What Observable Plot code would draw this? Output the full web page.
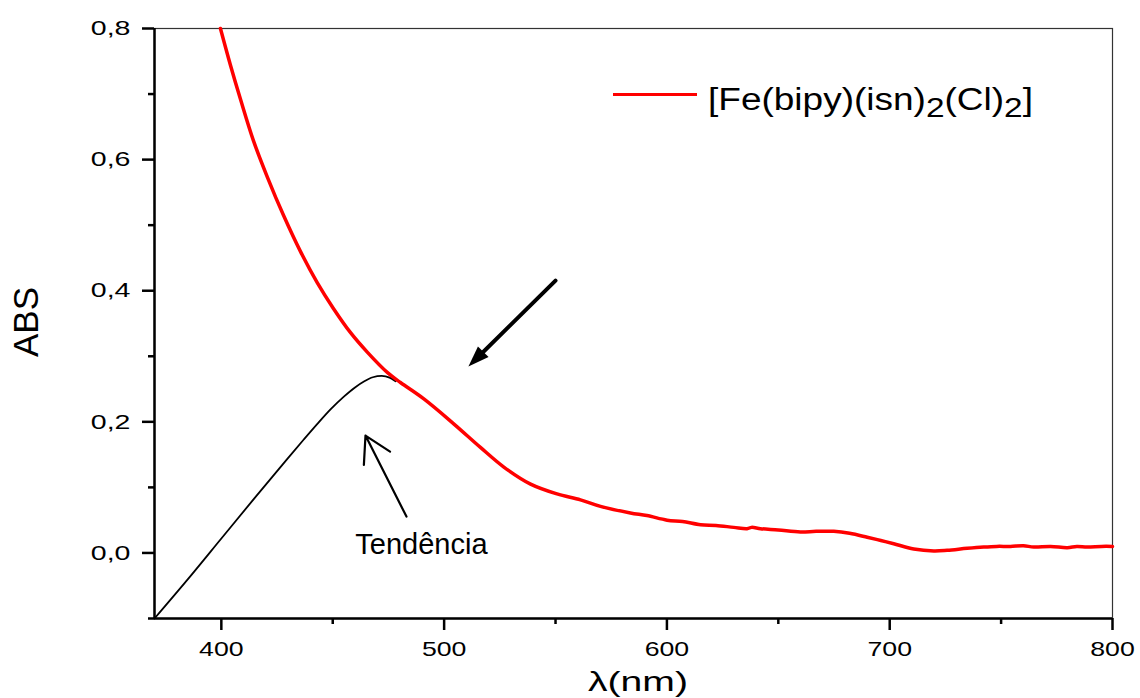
<!DOCTYPE html>
<html><head><meta charset="utf-8">
<script src="https://cdn.jsdelivr.net/npm/d3@7"></script>
<script src="https://cdn.jsdelivr.net/npm/@observablehq/plot@0.6"></script>
<style>body{margin:0;background:#fff;} #chart{width:1140px;height:698px;}</style>
</head><body><div id="chart"></div>
<script>
// ---- data ----
const wavelengthRed = [399.6,404.1,408.6,414.4,420.7,427.9,435.5,443.1,450.3,458.0,465.6,474.6,480.4,490.9,504.3,516.3,526.8,538.8,550.7,561.2,570.2,583.6,591,600.1,607,615.1,622,630.0,636,638,642.0,650,659.9,667,674.9,682,689.9,696,701.8,710.8,719.8,725.8,734.8,742.2,748,754.2,760,764.7,772.2,779.7,784,788.6,795,800];
const absRed = [0.800,0.744,0.692,0.629,0.573,0.515,0.460,0.412,0.373,0.336,0.306,0.275,0.260,0.235,0.197,0.161,0.131,0.105,0.090,0.081,0.071,0.061,0.057,0.050,0.048,0.043,0.042,0.039,0.037,0.039,0.037,0.035,0.032,0.033,0.033,0.030,0.024,0.019,0.014,0.006,0.003,0.004,0.007,0.009,0.010,0.010,0.011,0.009,0.010,0.008,0.010,0.009,0.010,0.010];
const wavelengthTrend = [370,385,400,415,430,437,443,449,455,460,464,468,472,475.5,478.2];
const absTrend = [-0.100,-0.040,0.022,0.084,0.145,0.173,0.1965,0.2190,0.2385,0.2525,0.2615,0.2680,0.2700,0.2675,0.2620];
const xTicks = [400,500,600,700,800];
const xMinorTicks = [450,550,650,750];
const yTicks = [0,0.2,0.4,0.6,0.8];
const yMinorTicks = [-0.1,0.1,0.3,0.5,0.7];
const xDomain = [370,800];
const yDomain = [-0.1,0.8];
const arrowMain = [{x1:550.0,y1:0.4155,x2:510.9,y2:0.2843}];
const arrowTrend = [{x1:483.1,y1:0.0555,x2:464.7,y2:0.179}];
const trendLabel = [{x:489.8,y:0.013,text:"Tendência"}];
const seriesName = ["[Fe(bipy)(isn)", "2", "(Cl)", "2", "]"];
const xLabel = "λ(nm)";
const yLabel = "ABS";

const red = wavelengthRed.map((x,i)=>({x, y:absRed[i]}));
const trend = wavelengthTrend.map((x,i)=>({x, y:absTrend[i]}));
const fmtY = d => d.toFixed(1).replace(".", ",");

// filled arrowhead symbol, tip at origin, pointing down-left
const headSymbol = {draw(ctx){
  const L=21, W=7.5, a=225*Math.PI/180;
  const ux=Math.sin(a), uy=-Math.cos(a), nx=-uy, ny=ux;
  const bx=-L*ux, by=-L*uy;
  ctx.moveTo(0,0); ctx.lineTo(bx+W*nx,by+W*ny); ctx.lineTo(bx-W*nx,by-W*ny); ctx.closePath();
}};

const font = "'Liberation Sans', Arial, sans-serif";
const chart = Plot.plot({
  width:1140, height:698, marginLeft:154, marginRight:28, marginTop:28, marginBottom:80,
  style:{fontFamily:font, background:"#fff", color:"#000"},
  x:{domain:xDomain}, y:{domain:yDomain},
  marks:[
    Plot.frame({stroke:"#333", strokeWidth:1.2}),
    Plot.axisX(xTicks, {tickSize:12, tickPadding:11, strokeWidth:2.5, fontSize:21, label:null, tickFormat:d=>String(d)}),
    Plot.axisX(xMinorTicks, {tickSize:6, strokeWidth:2.5, tickFormat:()=>"", label:null}),
    Plot.axisY(yTicks, {tickSize:12, tickPadding:12, strokeWidth:2.5, fontSize:21, label:null, tickFormat:fmtY}),
    Plot.axisY(yMinorTicks, {tickSize:6, strokeWidth:2.5, tickFormat:()=>"", label:null}),
    Plot.ruleX([xDomain[0]], {strokeWidth:2.5}),
    Plot.ruleY([yDomain[0]], {strokeWidth:2.5}),
    Plot.line(trend, {x:"x", y:"y", stroke:"black", strokeWidth:1.8, curve:"monotone-x"}),
    Plot.line(red, {x:"x", y:"y", stroke:"#ff0000", strokeWidth:3.5, curve:"catmull-rom"}),
    Plot.arrow(arrowMain, {x1:"x1", y1:"y1", x2:"x2", y2:"y2", headLength:0, insetEnd:14, strokeWidth:4, stroke:"black"}),
    Plot.dot(arrowMain, {x:"x2", y:"y2", symbol:headSymbol, fill:"black", stroke:"none", r:5}),
    Plot.arrow(arrowTrend, {x1:"x1", y1:"y1", x2:"x2", y2:"y2", headLength:20, headAngle:60, strokeWidth:2.2, stroke:"black"}),
    Plot.text(trendLabel, {x:"x", y:"y", text:"text", fontSize:29, fill:"black"})
  ]
});
document.getElementById("chart").appendChild(chart);

// stretch tick labels horizontally like the reference
function stretch(nodes, s){
  nodes.forEach(el=>{
    const t = el.getAttribute("transform") || "";
    const x = el.getAttribute("x");
    if (x != null) el.setAttribute("x", (+x)/s);
    el.setAttribute("transform", t + ` scale(${s},1)`);
  });
}
stretch(chart.querySelectorAll('g[aria-label="x-axis tick label"] text'), 1.27);
stretch(chart.querySelectorAll('g[aria-label="y-axis tick label"] text'), 1.36);

const svg = d3.select(chart);
// axis titles
svg.append("text").attr("x",638).attr("y",691).attr("text-anchor","middle")
  .attr("font-family",font).attr("font-size",28).attr("textLength",100).attr("lengthAdjust","spacingAndGlyphs")
  .text(xLabel);
svg.append("text").attr("transform","translate(38,322) rotate(-90)").attr("text-anchor","middle")
  .attr("font-family",font).attr("font-size",35).text(yLabel);
// legend
const lg = svg.append("g");
lg.append("line").attr("x1",613).attr("x2",697).attr("y1",94.5).attr("y2",94.5)
  .attr("stroke","#ff0000").attr("stroke-width",3);
const lt = lg.append("text").attr("x",708).attr("y",110).attr("text-anchor","start")
  .attr("font-family",font).attr("font-size",31)
  .attr("textLength",325).attr("lengthAdjust","spacingAndGlyphs");
seriesName.forEach((s,i)=>{
  const sub = i===1 || i===3;
  lt.append("tspan").attr("font-size", sub?28:31).attr("dy", sub?7:(i>0?-7:0)).text(s);
});
</script></body></html>
